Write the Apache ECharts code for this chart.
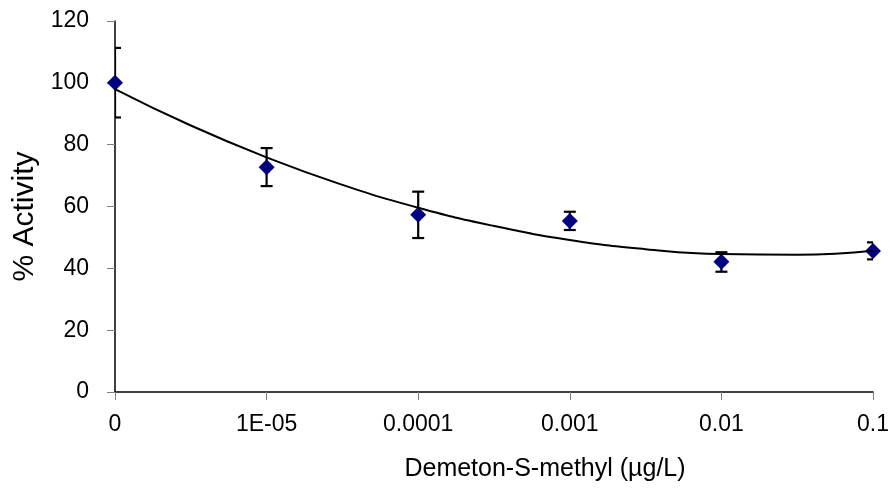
<!DOCTYPE html>
<html><head><meta charset="utf-8">
<script src="https://cdn.jsdelivr.net/npm/echarts@6/dist/echarts.min.js"></script>
<style>html,body{margin:0;padding:0;background:#fff}#c{width:890px;height:490px}</style>
</head><body><div id="c"></div>
<script>
const categories = ['0', '1E-05', '0.0001', '0.001', '0.01', '0.1'];
const activity = [100, 72.7, 57.3, 55.3, 42.1, 45.6];
const errLow = [88.8, 66.6, 49.8, 52.4, 38.9, 42.9];
const errHigh = [111.3, 78.9, 64.8, 58.3, 45.2, 48.4];
const trendPos = [0, 0.5, 1, 1.5, 2, 2.5, 3, 3.5, 4, 4.5, 5];
const trendVal = [98, 86.2, 75.9, 67, 59.6, 53.7, 49.2, 46.2, 44.6, 44.4, 45.7];
const yMin = 0, yMax = 120, yStep = 20;

const FONT = '"Liberation Sans", Arial, sans-serif';
const chart = echarts.init(document.getElementById('c'), null, {renderer: 'canvas'});
chart.setOption({
  animation: false,
  backgroundColor: '#ffffff',
  grid: {left: 115, right: 17, top: 21, bottom: 98, containLabel: false, outerBoundsMode: 'none'},
  xAxis: [{
    type: 'category', data: categories, boundaryGap: false,
    name: 'Demeton-S-methyl (µg/L)', nameLocation: 'middle', nameGap: 65,
    nameTextStyle: {fontFamily: FONT, fontSize: 25, color: '#000', padding: [0, 0, 0, 102]},
    axisLine: {lineStyle: {color: '#000', width: 1.5}},
    axisTick: {show: true, length: 8, alignWithLabel: true, lineStyle: {color: '#808080'}},
    axisLabel: {fontFamily: FONT, fontSize: 23, color: '#000', margin: 21},
    splitLine: {show: false}
  }, {
    type: 'value', min: 0, max: 5, show: false
  }],
  yAxis: {
    type: 'value', min: yMin, max: yMax, interval: yStep,
    name: '% Activity', nameLocation: 'middle', nameGap: 66, nameRotate: 90,
    nameTextStyle: {fontFamily: FONT, fontSize: 30, color: '#000', padding: [0, 20, 0, 0]},
    axisLine: {show: true, lineStyle: {color: '#000', width: 1.5}},
    axisTick: {show: true, length: 8, lineStyle: {color: '#808080'}},
    axisLabel: {fontFamily: FONT, fontSize: 23, color: '#000', margin: 26},
    splitLine: {show: false}
  },
  series: [{
    type: 'custom', xAxisIndex: 0, clip: true, z: 2,
    data: categories.map((c, i) => [i, errLow[i], errHigh[i]]),
    renderItem: function (params, api) {
      const lo = api.coord([api.value(0), api.value(1)]);
      const hi = api.coord([api.value(0), api.value(2)]);
      const hw = 6;
      const st = {stroke: '#000', lineWidth: 2.2};
      return {type: 'group', children: [
        {type: 'line', shape: {x1: lo[0], y1: lo[1], x2: hi[0], y2: hi[1]}, style: st},
        {type: 'line', shape: {x1: lo[0] - hw, y1: lo[1], x2: lo[0] + hw, y2: lo[1]}, style: st},
        {type: 'line', shape: {x1: hi[0] - hw, y1: hi[1], x2: hi[0] + hw, y2: hi[1]}, style: st}
      ]};
    }
  }, {
    type: 'scatter', xAxisIndex: 0, z: 3,
    data: activity,
    symbol: 'diamond', symbolSize: 16,
    itemStyle: {color: '#000080', opacity: 1}
  }, {
    type: 'line', xAxisIndex: 1, z: 4,
    data: trendPos.map((p, i) => [p, trendVal[i]]),
    smooth: true, showSymbol: false, symbol: 'none',
    lineStyle: {color: '#000', width: 2}
  }]
});
</script></body></html>
